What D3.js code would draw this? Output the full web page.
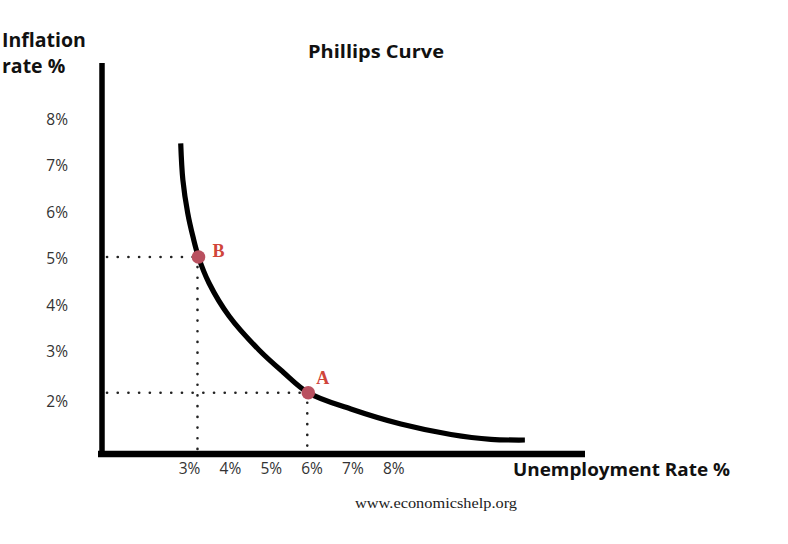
<!DOCTYPE html>
<html>
<head>
<meta charset="utf-8">
<script src="https://cdn.jsdelivr.net/npm/d3@7"></script>
<style>
  html, body { margin: 0; padding: 0; background: #fff; }
  svg { display: block; }
</style>
</head>
<body>
<svg id="chart" width="788" height="544"></svg>
<script>
// ---- data ----
const xTickValues = [3, 4, 5, 6, 7, 8];            // unemployment %
const yTickValues = [2, 3, 4, 5, 6, 7, 8];         // inflation %
const curveUnemployment = [2.785, 2.838, 2.956, 3.086, 3.220, 3.477, 3.967, 4.701, 5.288, 5.907, 6.949, 8.173, 9.397, 10.376, 11.208];
const curveInflation    = [7.456, 6.667, 5.957, 5.441, 5.011, 4.452, 3.742, 3.011, 2.538, 2.092, 1.742, 1.419, 1.194, 1.090, 1.075];
const pointLabels = ["B", "A"];
const pointUnemployment = [3.22, 5.907];
const pointInflation = [5.011, 2.092];
const title = "Phillips Curve";
const xTitle = "Unemployment Rate %";
const yTitleLines = ["Inflation", "rate %"];
const source = "www.economicshelp.org";

// ---- layout ----
const svg = d3.select("#chart");
const sans = "'Open Sans', 'Noto Sans', sans-serif";

const x = d3.scaleLinear().domain([3, 8]).range([189.5, 393.8]);
const y = d3.scaleLinear().domain([2, 8]).range([397, 118]);

const axisX0 = 102, axisY0 = 454;

// axes (thick black bars)
svg.append("line")
  .attr("x1", axisX0).attr("x2", axisX0)
  .attr("y1", 63).attr("y2", axisY0 + 3)
  .attr("stroke", "#000").attr("stroke-width", 5.5);
svg.append("line")
  .attr("x1", axisX0 - 4).attr("x2", 585)
  .attr("y1", axisY0).attr("y2", axisY0)
  .attr("stroke", "#000").attr("stroke-width", 6.5);

// y tick labels
svg.append("g").selectAll("text").data(yTickValues).join("text")
  .attr("x", 68)
  .attr("y", d => y(d) + (d === 2 ? 4 : 0.5))
  .attr("text-anchor", "end")
  .attr("dominant-baseline", "central")
  .attr("font-family", sans).attr("font-size", 15.5)
  .attr("fill", "#333")
  .text(d => d + "%");

// x tick labels
svg.append("g").selectAll("text").data(xTickValues).join("text")
  .attr("x", d => x(d))
  .attr("y", 468)
  .attr("text-anchor", "middle")
  .attr("dominant-baseline", "central")
  .attr("font-family", sans).attr("font-size", 15.5)
  .attr("fill", "#333")
  .text(d => d + "%");

// dotted guide lines
const pts = pointLabels.map((l, i) => ({ label: l, u: pointUnemployment[i], v: pointInflation[i] }));
const guides = svg.append("g")
  .attr("stroke", "#222").attr("stroke-width", 2.6)
  .attr("stroke-linecap", "round").attr("stroke-dasharray", "0.1,10.6").attr("fill", "none");
pts.forEach(p => {
  guides.append("line")
    .attr("x1", axisX0 + 5).attr("x2", x(p.u))
    .attr("y1", y(p.v)).attr("y2", y(p.v));
  guides.append("line")
    .attr("x1", x(p.u) - 1).attr("x2", x(p.u) - 1)
    .attr("y1", y(p.v) + 10).attr("y2", axisY0 - 3);
});

// curve
const curveData = curveUnemployment.map((u, i) => [u, curveInflation[i]]);
svg.append("path")
  .datum(curveData)
  .attr("d", d3.line().x(d => x(d[0])).y(d => y(d[1])).curve(d3.curveCatmullRom.alpha(0.5)))
  .attr("fill", "none").attr("stroke", "#000").attr("stroke-width", 5.2);

// points
svg.append("g").selectAll("circle").data(pts).join("circle")
  .attr("cx", d => x(d.u)).attr("cy", d => y(d.v)).attr("r", 6.8)
  .attr("fill", "#b9505f");
svg.append("g").selectAll("text").data(pts).join("text")
  .attr("x", d => x(d.u) + (d.label === "B" ? 14 : 8))
  .attr("y", d => y(d.v) + (d.label === "B" ? 0 : -9))
  .attr("font-family", "'Liberation Serif', 'DejaVu Serif', serif")
  .attr("font-weight", "bold").attr("font-size", 18)
  .attr("fill", "#d0453a")
  .text(d => d.label);

// titles
svg.append("text")
  .attr("x", 376).attr("y", 58)
  .attr("text-anchor", "middle")
  .attr("font-family", sans).attr("font-weight", "bold").attr("font-size", 18)
  .attr("textLength", 136).attr("lengthAdjust", "spacingAndGlyphs")
  .attr("fill", "#111")
  .text(title);

svg.append("text")
  .attr("x", 513).attr("y", 476)
  .attr("font-family", sans).attr("font-weight", "bold").attr("font-size", 18.5)
  .attr("textLength", 217).attr("lengthAdjust", "spacingAndGlyphs")
  .attr("fill", "#111")
  .text(xTitle);

svg.append("g").selectAll("text").data(yTitleLines).join("text")
  .attr("x", 2).attr("y", (d, i) => 47 + i * 26)
  .attr("font-family", sans).attr("font-weight", "bold").attr("font-size", 19.5)
  .attr("fill", "#111")
  .text(d => d);

svg.append("text")
  .attr("x", 355).attr("y", 508)
  .attr("font-family", "'Liberation Serif', 'DejaVu Serif', serif")
  .attr("font-size", 15.5)
  .attr("textLength", 162).attr("lengthAdjust", "spacingAndGlyphs")
  .attr("fill", "#222")
  .text(source);
</script>
</body>
</html>
